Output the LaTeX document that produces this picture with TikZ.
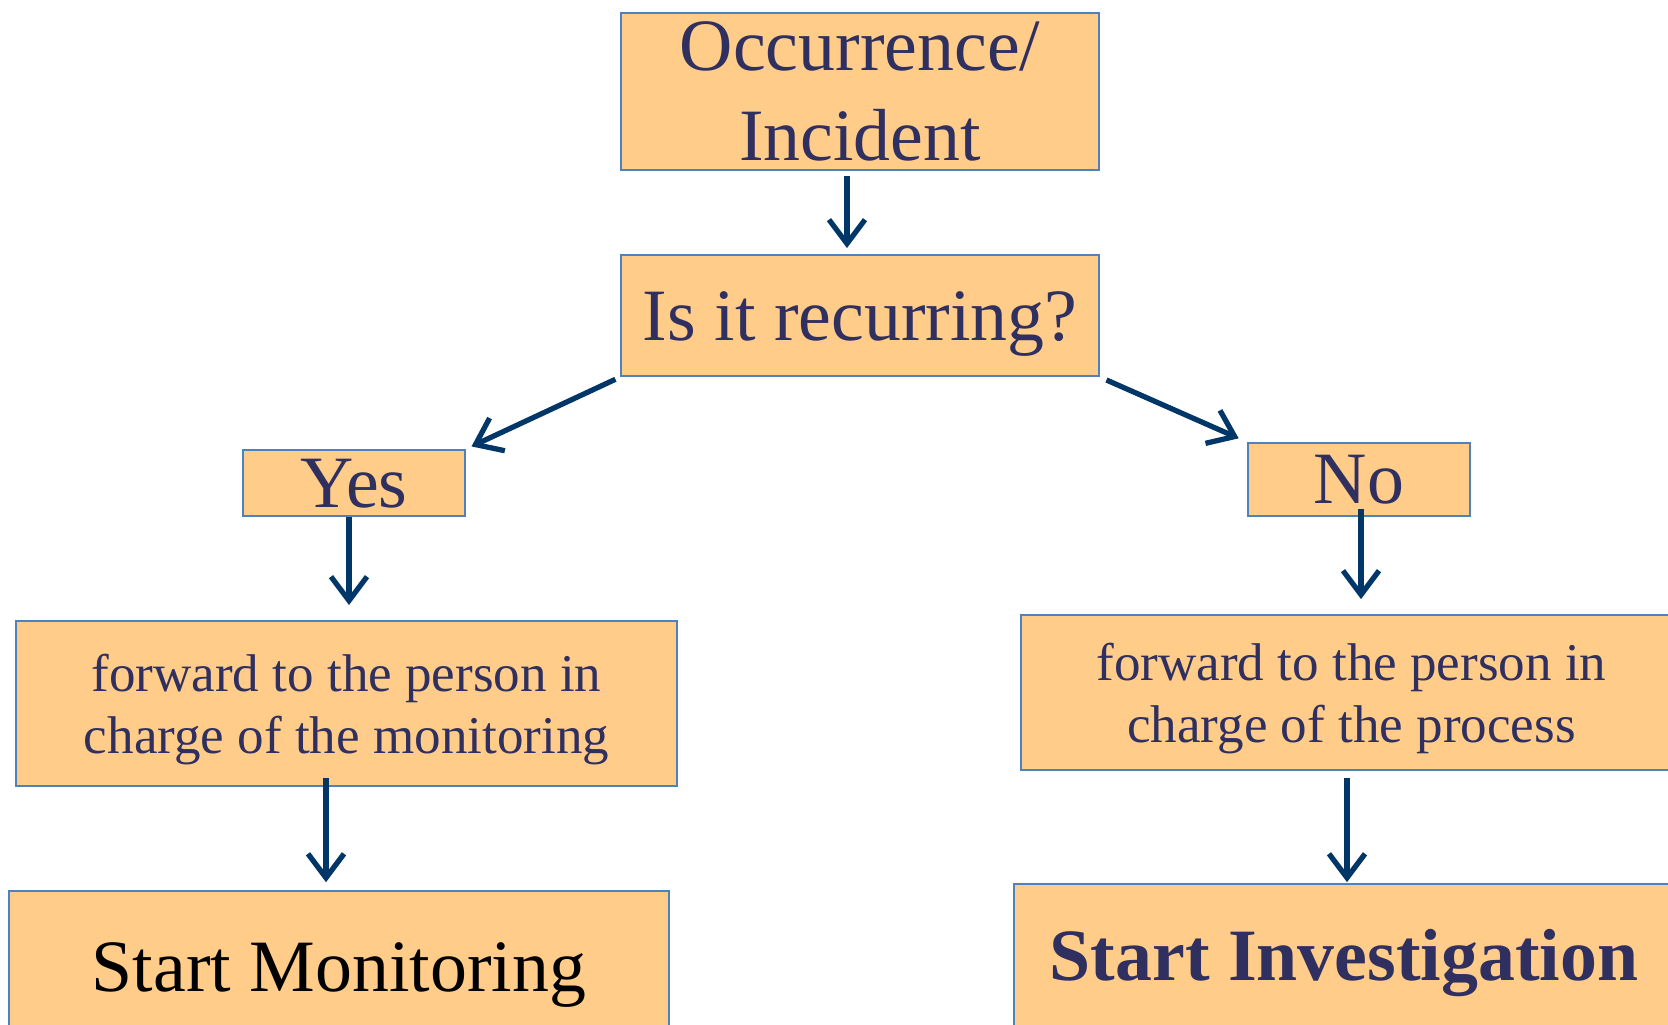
\documentclass[tikz,border=0pt]{standalone}
\usepackage{fontspec}
\setmainfont{Liberation Serif}
\usetikzlibrary{arrows.meta, positioning, calc}
\definecolor{boxfill}{RGB}{255,204,138}
\definecolor{boxedge}{RGB}{79,129,189}
\definecolor{arrowblue}{RGB}{0,54,104}
\definecolor{textnavy}{RGB}{48,48,96}

\begin{document}
\begin{tikzpicture}[
    box/.style={draw=boxedge, line width=0.6pt, fill=boxfill, inner sep=0pt, align=center, text=textnavy, text depth=0pt},
    bigtxt/.style={font=\fontsize{21}{25.6}\selectfont},
    smalltxt/.style={font=\fontsize{15.1}{17.6}\selectfont},
    flow/.style={-{Straight Barb[length=2.4mm, width=3.6mm]}, line width=1.5pt, arrowblue},
]
\useasboundingbox (0,0) rectangle (16.68,-10.24);

% --- Incident and the question ---
\node[box, bigtxt, minimum width=4.78cm, minimum height=1.57cm] (occ) at (8.60,-0.915) {Occurrence/\\Incident};
\node[box, bigtxt, minimum width=4.78cm, minimum height=1.21cm, below=0.83cm of occ] (rec) {Is it recurring?};

% --- Answers ---
\node[box, bigtxt, minimum width=2.22cm, minimum height=0.66cm] (yes) at (3.54,-4.83) {Yes};
\node[box, bigtxt, minimum width=2.22cm, minimum height=0.73cm] (no) at (13.59,-4.795) {No};

% --- Forwarding ---
\node[box, smalltxt, minimum width=6.61cm, minimum height=1.65cm, below=1.03cm of yes, xshift=-0.075cm] (fwdmon) {forward to the person in\\charge of the monitoring};
\node[box, smalltxt, minimum width=6.61cm, minimum height=1.55cm, below=0.97cm of no, xshift=-0.075cm] (fwdproc) {forward to the person in\\charge of the process};

% --- Outcomes ---
\node[box, bigtxt, text=black, minimum width=6.60cm, minimum height=1.52cm, below=1.03cm of fwdmon, xshift=-0.075cm] (startmon) {Start Monitoring};
\node[box, bigtxt, minimum width=6.60cm, minimum height=1.42cm, below=1.12cm of fwdproc, xshift=-0.075cm] (startinv) {\bfseries Start Investigation};

% --- Arrows ---
\draw[flow, shorten <=0.05cm, shorten >=0.06cm] ([xshift=-0.13cm]occ.south) -- ([xshift=-0.13cm]rec.north);
\draw[flow, shorten <=0.05cm, shorten >=0.06cm] (rec.south west) -- (yes.north east);
\draw[flow, shorten <=0.07cm, shorten >=0.09cm] (rec.south east) -- (no.north west);
\draw[flow, shorten >=0.15cm] ([xshift=-0.05cm]yes.south) -- ([xshift=-0.05cm]yes.south |- fwdmon.north);
\draw[flow, shorten <=-0.09cm, shorten >=0.08cm] ([xshift=-0.205cm]fwdmon.south) -- ([xshift=-0.205cm]fwdmon.south |- startmon.north);
\draw[flow, shorten <=-0.08cm, shorten >=0.15cm] ([xshift=0.02cm]no.south) -- ([xshift=0.02cm]no.south |- fwdproc.north);
\draw[flow, shorten <=0.07cm, shorten >=0.01cm] ([xshift=-0.045cm]fwdproc.south) -- ([xshift=-0.045cm]fwdproc.south |- startinv.north);

\end{tikzpicture}
\end{document}
